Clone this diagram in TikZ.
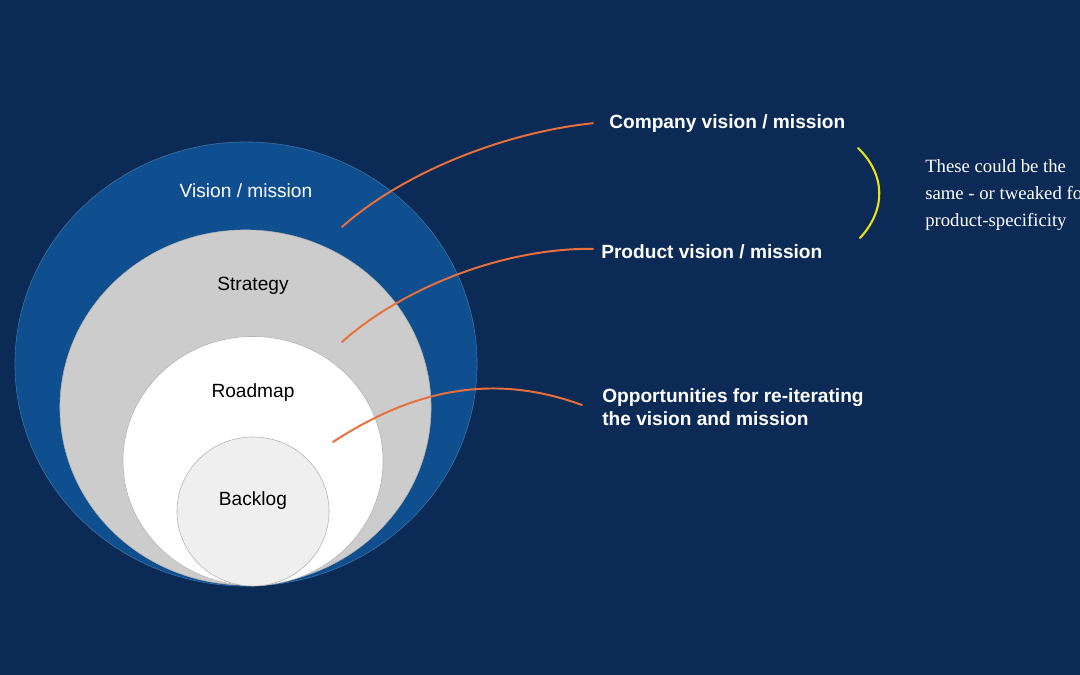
\documentclass[tikz,border=0pt]{standalone}
\usepackage{fontspec}
\setmainfont{Liberation Sans}
\newfontfamily\notefont{Liberation Serif}
\usetikzlibrary{shapes.geometric}

\definecolor{navy}{HTML}{0B2A56}
\definecolor{ringblue}{HTML}{0F4F8F}
\definecolor{ringgray}{HTML}{CCCCCC}
\definecolor{backlogfill}{HTML}{EFEFEF}
\definecolor{linkorange}{HTML}{E8703A}
\definecolor{bracketyellow}{HTML}{E8E214}

\begin{document}
\begin{tikzpicture}[
  x=0.025cm, y=-0.025cm,
  ring/.style={ellipse, draw=black!30, line width=0.4pt, inner sep=0pt, outer sep=0pt},
  ringtext/.style={font=\fontsize{13.6}{16}\selectfont},
  callout/.style={anchor=west, text=white, align=left, inner sep=0pt,
                  font=\bfseries\fontsize{13.6}{16.5}\selectfont},
  link/.style={draw=linkorange, line width=1.4pt, line cap=round}
]
\fill[navy] (0,0) rectangle (1080,675);
\clip (0,0) rectangle (1080,675);
% nested rings
\node[ring, draw=ringblue!80!white, fill=ringblue, minimum width=11.55cm, minimum height=11.1cm] (vision) at (246,364) {};
\node[ring, fill=ringgray, minimum width=9.275cm, minimum height=8.875cm] (strategy) at (245.5,407.5) {};
\node[ring, fill=white, minimum width=6.5cm, minimum height=6.225cm] (roadmap) at (253,461) {};
\node[ring, fill=backlogfill, minimum width=3.8cm, minimum height=3.725cm] (backlog) at (253,511.5) {};
\node[ringtext, text=white] (visiontxt) at (246,191) {Vision / mission};
\node[ringtext] (strategytxt) at (253,286) {Strategy};
\node[ringtext] (roadmaptxt) at (253,393) {Roadmap};
\node[ringtext] (backlogtxt) at (253,501) {Backlog};
% callouts
\node[callout] (company) at (609,124) {Company vision / mission};
\node[callout] (product) at (601,252) {Product vision / mission};
\node[callout] (reiterate) at (602,407) {Opportunities for re-iterating\\the vision and mission};
\node[anchor=west, text=white, align=left, inner sep=0pt,
      font=\notefont\fontsize{13.3}{19.2}\selectfont] (note) at (925,195)
      {These could be the\\same - or tweaked for\\product-specificity};
% connectors
\coordinate (c1) at (342,227);
\coordinate (c2) at (342,342);
\coordinate (c3) at (333,442);
\draw[link] (c1) .. controls (400,175) and (500,133) .. ([xshift=-0.4cm,yshift=0.02cm]company.west);
\draw[link] (c2) .. controls (400,290) and (500,248) .. ([xshift=-0.2cm,yshift=0.08cm]product.west);
\draw[link] (c3) .. controls (420,385) and (500,375) .. ([xshift=-0.5cm,yshift=0.05cm]reiterate.west);
\coordinate (b1) at (858,148);
\coordinate (b2) at (860,238);
\draw[bracketyellow, line width=1.5pt, line cap=round] (b1) .. controls (886,175) and (886,210) .. (b2);
\end{tikzpicture}
\end{document}
